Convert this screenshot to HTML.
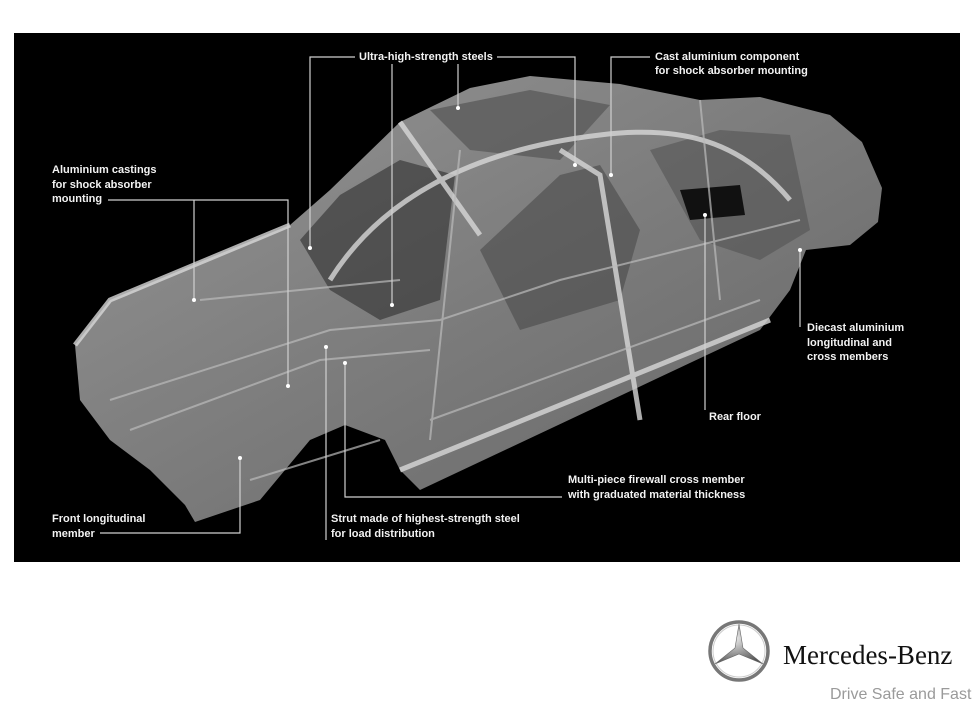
<!DOCTYPE html>
<html><head><meta charset="utf-8"><style>
html,body{margin:0;padding:0;background:#fff;width:975px;height:703px;overflow:hidden}
svg{display:block}
.l{font-family:"Liberation Sans",sans-serif;font-weight:bold;font-size:11px;fill:#f2f2f2}
</style></head><body>
<svg width="975" height="703" viewBox="0 0 975 703">
<defs>
<linearGradient id="g" x1="0" y1="0" x2="1" y2="1">
<stop offset="0" stop-color="#b0b0b0"/><stop offset="0.5" stop-color="#929292"/><stop offset="1" stop-color="#767676"/>
</linearGradient>
<radialGradient id="star" cx="0.4" cy="0.35" r="0.7"><stop offset="0" stop-color="#eee"/><stop offset="1" stop-color="#555"/></radialGradient>
</defs>
<rect x="14" y="33" width="946" height="529" fill="#000"/>
<path d="M75,345 L110,300 L200,262 L290,225 L330,190 L400,122 L470,88 L530,76 L620,84 L700,100 L760,97 L830,115 L862,142 L882,188 L878,222 L850,245 L806,250 L790,290 L760,330 L420,490 L400,470 L385,440 L345,425 L310,440 L260,500 L195,522 L185,505 L150,470 L110,440 L80,400 Z" fill="url(#g)" opacity="0.85"/>
<path d="M300,240 L340,195 L400,160 L455,175 L440,300 L380,320 L330,290 Z" fill="#3a3a3a" opacity="0.7"/>
<path d="M430,110 L530,90 L610,105 L560,160 L470,150 Z" fill="#555" opacity="0.7"/>
<path d="M480,250 L560,175 L600,165 L640,230 L620,300 L520,330 Z" fill="#4a4a4a" opacity="0.6"/>
<path d="M650,150 L720,130 L790,135 L810,230 L760,260 L700,240 Z" fill="#505050" opacity="0.55"/>
<path d="M680,190 L740,185 L745,215 L690,220 Z" fill="#111"/>
<g fill="none" stroke="#d8d8d8" stroke-width="5" opacity="0.8">
<path d="M330,280 C380,200 470,150 600,135 C680,125 740,140 790,200"/>
<path d="M400,122 L480,235"/>
<path d="M560,150 L600,175 L640,420"/>
<path d="M400,470 L770,320"/>
<path d="M75,345 L110,300 L290,225"/>
</g>
<g fill="none" stroke="#bbb" stroke-width="2" opacity="0.7">
<path d="M110,400 L330,330 L440,320 L560,280 L800,220"/>
<path d="M130,430 L320,360 L430,350"/>
<path d="M200,300 L400,280"/>
<path d="M250,480 L380,440"/>
<path d="M430,420 L760,300"/>
<path d="M700,100 L720,300"/>
<path d="M460,150 L430,440"/>
</g>
<g fill="none" stroke="#d0d0d0" stroke-width="1.2">
<path d="M355,57 H310 V248"/>
<path d="M392,64 V305"/>
<path d="M458,64 V108"/>
<path d="M497,57 H575 V165"/>
<path d="M650,57 H611 V175"/>
<path d="M108,200 H288 V386"/>
<path d="M194,200 V300"/>
<path d="M800,327 V250"/>
<path d="M705,410 V215"/>
<path d="M562,497 H345 V363"/>
<path d="M326,540 V347"/>
<path d="M100,533 H240 V458"/>
</g>
<g fill="#fff">
<circle cx="310" cy="248" r="2"/><circle cx="392" cy="305" r="2"/><circle cx="458" cy="108" r="2"/>
<circle cx="575" cy="165" r="2"/><circle cx="611" cy="175" r="2"/><circle cx="288" cy="386" r="2"/>
<circle cx="194" cy="300" r="2"/><circle cx="800" cy="250" r="2"/><circle cx="705" cy="215" r="2"/>
<circle cx="345" cy="363" r="2"/><circle cx="326" cy="347" r="2"/><circle cx="240" cy="458" r="2"/>
</g>
<text class="l" x="359" y="60">Ultra-high-strength steels</text>
<text class="l" x="655" y="60">Cast aluminium component</text>
<text class="l" x="655" y="74">for shock absorber mounting</text>
<text class="l" x="52" y="173">Aluminium castings</text>
<text class="l" x="52" y="188">for shock absorber</text>
<text class="l" x="52" y="202">mounting</text>
<text class="l" x="807" y="331">Diecast aluminium</text>
<text class="l" x="807" y="346">longitudinal and</text>
<text class="l" x="807" y="360">cross members</text>
<text class="l" x="709" y="420">Rear floor</text>
<text class="l" x="568" y="483">Multi-piece firewall cross member</text>
<text class="l" x="568" y="498">with graduated material thickness</text>
<text class="l" x="331" y="522">Strut made of highest-strength steel</text>
<text class="l" x="331" y="537">for load distribution</text>
<text class="l" x="52" y="522">Front longitudinal</text>
<text class="l" x="52" y="537">member</text>
<circle cx="739" cy="651" r="29" fill="none" stroke="#777" stroke-width="3.5"/>
<circle cx="739" cy="651" r="26" fill="none" stroke="#ccc" stroke-width="1"/>
<path d="M739,624 L743,648 L763,664 L739,654 L715,664 L735,648 Z" fill="url(#star)" stroke="#666" stroke-width="0.6"/>
<text x="783" y="664" font-family="'Liberation Serif',serif" font-size="27" fill="#111">Mercedes-Benz</text>
<text x="830" y="699" font-family="'Liberation Sans',sans-serif" font-size="16" fill="#9a9a9a">Drive Safe and Fast</text>
</svg>
</body></html>
